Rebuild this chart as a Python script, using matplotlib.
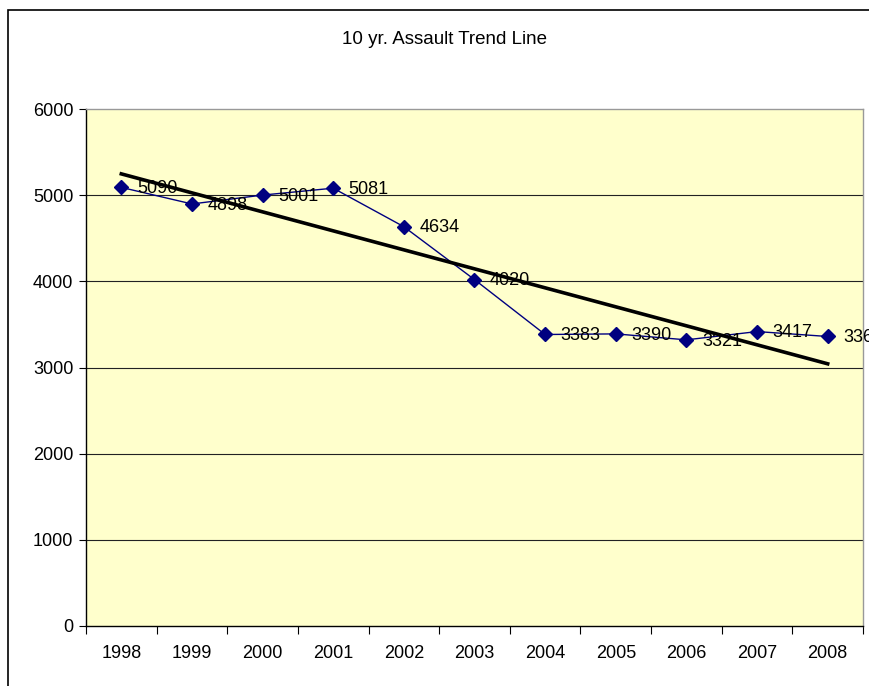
import numpy as np
import matplotlib
matplotlib.use("Agg")
import matplotlib.pyplot as plt
from matplotlib.patches import Rectangle

plt.rcParams['font.family'] = ['Liberation Sans', 'DejaVu Sans']

years = ['1998', '1999', '2000', '2001', '2002', '2003', '2004', '2005', '2006', '2007', '2008']
assaults = [5090, 4898, 5001, 5081, 4634, 4020, 3383, 3390, 3321, 3417, 3360]
y_ticks = [0, 1000, 2000, 3000, 4000, 5000, 6000]

x = np.arange(len(years))
y = np.array(assaults)

fig = plt.figure(figsize=(8.7, 6.86), dpi=100)
ax = fig.add_axes([86 / 870, 1 - 626 / 686, 777 / 870, 517 / 686])

# outer chart border (cut off on the right/bottom as in the original)
fig.patches.append(Rectangle((8 / 870, -0.1), 1.2, 1 - 10 / 686 + 0.1,
                             transform=fig.transFigure, fill=False,
                             edgecolor='black', linewidth=1.2))

ax.set_facecolor('#FFFFCC')
ax.set_xlim(-0.5, len(years) - 0.5)
ax.set_ylim(0, 6000)

for v in y_ticks[1:-1]:
    ax.axhline(v, color='#222222', linewidth=0.8, zorder=1)

# data series
ax.plot(x, y, color='#000080', linewidth=1, marker='D', markersize=7,
        markerfacecolor='#000080', markeredgecolor='#000080', zorder=3)

# linear trend line
slope, intercept = np.polyfit(x, y, 1)
ax.plot(x, slope * x + intercept, color='black', linewidth=2.6, zorder=4)

for xi, yi in zip(x, y):
    ax.text(xi + 0.22, yi - 15, str(yi), fontsize=13, va='center', ha='left',
            color='black', zorder=5, clip_on=False)

# axes styling
ax.set_yticks(y_ticks)
ax.set_yticklabels([str(v) for v in y_ticks], fontsize=13)
ax.set_xticks(np.arange(-0.5, len(years), 1.0))
ax.set_xticklabels([])
ax.set_xticks(x, minor=True)
ax.set_xticklabels(years, minor=True, fontsize=13)
ax.tick_params(axis='x', which='major', length=6, direction='out', color='black')
ax.tick_params(axis='x', which='minor', length=0, pad=14)
ax.tick_params(axis='y', length=5, direction='out', color='black', pad=4)

ax.spines['left'].set_color('black')
ax.spines['bottom'].set_color('black')
ax.spines['top'].set_color('#999999')
ax.spines['right'].set_color('#999999')
for s in ax.spines.values():
    s.set_linewidth(1)

fig.text(445 / 870, 1 - 40 / 686, '10 yr. Assault Trend Line', ha='center',
         va='center', fontsize=13.5)

fig.savefig('out.png', dpi=100, facecolor='white')
